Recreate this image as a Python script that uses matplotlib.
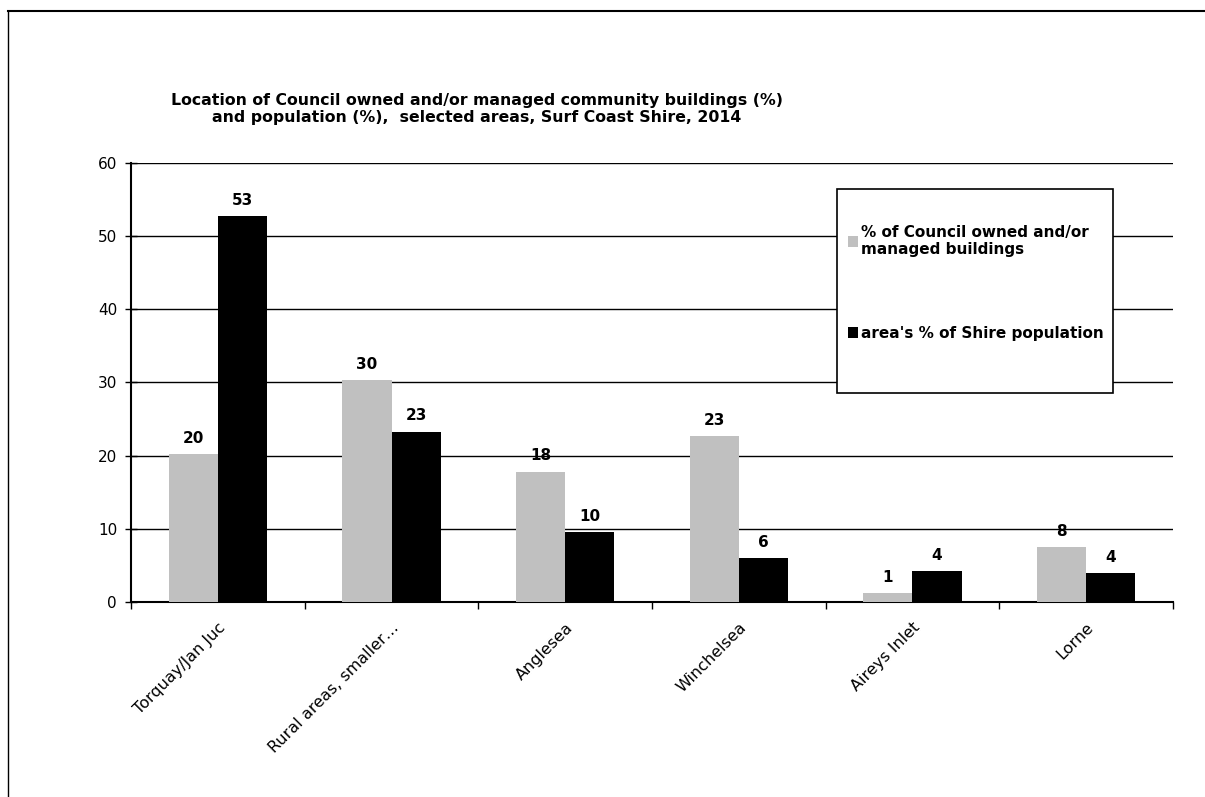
import matplotlib
matplotlib.use("Agg")
import matplotlib.pyplot as plt
import numpy as np
from matplotlib.lines import Line2D
from matplotlib.patches import Rectangle

plt.rcParams["font.family"] = ["DejaVu Sans"]

areas = ["Torquay/Jan Juc", "Rural areas, smaller\u2026", "Anglesea",
         "Winchelsea", "Aireys Inlet", "Lorne"]
buildings_pct = [20.2, 30.3, 17.8, 22.7, 1.2, 7.5]
population_pct = [52.7, 23.3, 9.5, 6.0, 4.2, 3.9]
series_names = ["% of Council owned and/or\nmanaged buildings",
                "area's % of Shire population"]
title = ("Location of Council owned and/or managed community buildings (%)\n"
         "and population (%),  selected areas, Surf Coast Shire, 2014")

W, H = 1205, 797
fig = plt.figure(figsize=(W / 100, H / 100), dpi=100)
ax = fig.add_axes([131 / W, 1 - 602 / H, (1173 - 131) / W, (602 - 163) / H])

x = np.arange(len(areas))
bw = 0.283
b1 = ax.bar(x - bw / 2, buildings_pct, bw, color="#C0C0C0", zorder=3)
b2 = ax.bar(x + bw / 2, population_pct, bw, color="black", zorder=3)

for bars, vals in ((b1, buildings_pct), (b2, population_pct)):
    for rect, v in zip(bars, vals):
        ax.annotate(f"{v:.0f}", (rect.get_x() + rect.get_width() / 2, v),
                    xytext=(0, 6), textcoords="offset points",
                    ha="center", va="bottom", fontsize=11, fontweight="bold")

ax.set_xlim(-0.5, len(areas) - 0.5)
ax.set_ylim(0, 60)
ax.set_yticks(range(0, 61, 10))
ax.yaxis.grid(True, color="black", linewidth=1.0, zorder=0)
ax.set_axisbelow(True)

ax.set_xticks(np.arange(len(areas) + 1) - 0.5)
ax.set_xticklabels([])
ax.set_xticks(x, minor=True)
ax.set_xticklabels(areas, minor=True, rotation=45, ha="right",
                   rotation_mode="anchor", fontsize=11.5)
ax.tick_params(axis="x", which="minor", length=0, pad=13)
ax.tick_params(axis="x", which="major", direction="out", length=5, width=1)
ax.tick_params(axis="y", direction="inout", length=8, width=1, labelsize=11, pad=6)

for s in ("top", "right"):
    ax.spines[s].set_visible(False)
for s in ("left", "bottom"):
    ax.spines[s].set_linewidth(1.5)

fig.text(477 / W, 1 - 109 / H, title, ha="center", va="center",
         fontsize=11.3, fontweight="bold", linespacing=1.2)

# legend box
fig.patches.append(Rectangle((837 / W, 1 - 393 / H), (1113 - 837) / W, (393 - 189) / H,
                             transform=fig.transFigure, facecolor="white",
                             edgecolor="black", linewidth=1.2, zorder=5))
leg = fig.legend([b1, b2], series_names, loc="upper left",
                 bbox_to_anchor=(834 / W, 1 - 211 / H), frameon=False,
                 prop={"size": 11, "weight": "bold"}, handlelength=0.65,
                 handleheight=0.65, handletextpad=0.2, labelspacing=4.5)
leg.set_zorder(6)

# outer frame
fig.add_artist(Line2D([8 / W, 1], [1 - 11 / H, 1 - 11 / H], color="black",
                      linewidth=1.5, transform=fig.transFigure))
fig.add_artist(Line2D([8 / W, 8 / W], [0, 1 - 11 / H], color="black",
                      linewidth=1.0, transform=fig.transFigure))

fig.savefig("out.png", dpi=100)
